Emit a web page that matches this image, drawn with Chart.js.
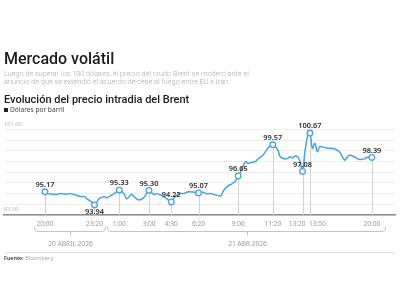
<!DOCTYPE html>
<html lang="es">
<head>
<meta charset="utf-8">
<script src="https://cdn.jsdelivr.net/npm/chart.js@4.4.1/dist/chart.umd.min.js"></script>
<style>
  html, body { margin: 0; padding: 0; background: #fff; }
  #wrap { position: relative; width: 400px; height: 300px; overflow: hidden; font-family: 'Noto Sans', sans-serif; }
  #wrap canvas { position: absolute; left: 0; top: 0; }
  .txt { position: absolute; left: 4px; white-space: nowrap; line-height: 1; }
  #title { top: 51px; font-family: Roboto, sans-serif; font-size: 16px; font-weight: 500; color: #1b1b1b; }
  #subtitle { top: 69.5px; font-family: Roboto, sans-serif; font-size: 7.3px; line-height: 8.3px; color: #a9a9a9; font-weight: 300; }
  #heading { top: 93.5px; font-family: Roboto, sans-serif; font-size: 11px; font-weight: 500; color: #1b1b1b; }
  #legend { top: 106.5px; font-size: 6.6px; color: #444; }
  #legend .sq { display: inline-block; width: 4px; height: 4px; background: #222; margin-right: 2px; vertical-align: 0px; }
  #sep { position: absolute; left: 4px; width: 392px; top: 252px; height: 1px; background: #e3e3e3; }
  #source { top: 256px; font-size: 5.4px; color: #aaa; }
  #source b { color: #333; font-weight: 600; }
</style>
</head>
<body>
<div id="wrap">
  <canvas id="brentChart" width="400" height="300"></canvas>
  <div class="txt" id="title">Mercado volátil</div>
  <div class="txt" id="subtitle">Luego de superar los 100 dólares, el precio del crudo Brent se moderó ante el<br>anuncio de que se extendió el acuerdo de cese al fuego entre EU e Irán</div>
  <div class="txt" id="heading">Evolución del precio intradia del Brent</div>
  <div class="txt" id="legend"><span class="sq"></span>Dólares por barril</div>
  <div id="sep"></div>
  <div class="txt" id="source"><b>Fuente:</b> Bloomberg</div>
</div>
<script>
// --- DATOS ---
// número de muestra (cada ~10 min) y precio del Brent en dólares
const sampleIdx = [
  0, 1, 3, 5, 6, 7, 9, 10, 12, 14, 15, 16, 17, 19, 20, 22, 24, 25, 27, 28, 30,
  32, 33, 35, 36, 38, 40, 42, 44, 45, 47, 49, 51, 52, 54, 56, 58, 60, 62,
  64, 65, 67, 69, 71, 72, 74, 75, 77, 78,
  79, 80, 81, 82, 83, 85, 86, 88, 90, 92, 94, 95, 97, 98, 99, 100, 101, 102, 103, 104,
  105, 106, 107, 108, 109, 110, 111, 113, 115, 117, 118, 119, 121, 122, 123, 125, 126, 127, 129, 130, 132
];
const brentPrice = [
  95.17, 95.00, 94.95, 94.92, 95.02, 94.98, 94.95, 95.00, 94.90, 94.75, 94.72, 94.72, 94.50, 94.20, 93.94, 94.55, 94.70, 94.62, 94.87, 95.00, 95.33,
  94.96, 94.50, 94.95, 94.71, 94.40, 94.65, 95.30, 94.90, 95.00, 94.85, 94.56, 94.22, 94.56, 95.00, 95.00, 95.18, 95.15, 95.07,
  95.12, 95.00, 95.00, 94.87, 94.80, 95.25, 95.75, 95.85, 96.20, 96.65,
  97.05, 97.60, 98.00, 97.83, 97.90, 98.00, 98.24, 98.60, 99.24, 99.57, 99.08, 98.45, 98.24, 98.30, 98.45, 98.35, 98.52, 98.45, 98.00, 97.08,
  99.00, 100.30, 100.67, 99.24, 99.70, 98.92, 99.39, 99.30, 99.25, 99.18, 99.08, 98.90, 98.14, 98.40, 98.60, 98.45, 98.30, 98.20, 98.25, 98.40, 98.39
];

// marcas del eje x (muestras destacadas) y sus horas
const tickIdx = [0, 20, 30, 42, 51, 62, 78, 92, 104, 107, 132];
const tickLabels = ['20:00', '23:20', '1:00', '3:00', '4:30', '6:20', '9:00', '11:20', '13:20', '13:50', '20:00'];
const belowLabelIdx = [20]; // 93.94 lleva la etiqueta debajo

// fechas agrupando las horas
const dateLabels = ['20 ABRIL 2026', '21 ABR 2026'];
const dateFrom = [-4.4, 25];
const dateTo = [24.1, 137.2];

const yTickLabels = [93, 101];

const BLUE = '#46a2e6';

// alineación de las horas: 13:20 y 13:50 están muy juntas
function tickAlign(v) {
  if (v === 104) return 'right';
  if (v === 107) return 'left';
  return 'center';
}

// --- PLUGIN: líneas verticales, etiquetas de valores, horas y llaves de fechas ---
const extras = {
  id: 'extras',
  beforeDatasetsDraw(chart) {
    const { ctx, chartArea } = chart;
    const meta = chart.getDatasetMeta(0);
    ctx.save();
    ctx.strokeStyle = '#d2d2d2';
    ctx.lineWidth = 1;
    meta.data.forEach((pt, i) => {
      if (!tickIdx.includes(sampleIdx[i])) return;
      const px = Math.round(pt.x) + 0.5;
      ctx.beginPath();
      ctx.moveTo(px, pt.y);
      ctx.lineTo(px, chartArea.bottom);
      ctx.stroke();
    });
    ctx.restore();
  },
  afterDatasetsDraw(chart) {
    const { ctx } = chart;
    const meta = chart.getDatasetMeta(0);
    ctx.save();
    ctx.font = "600 7.4px 'Noto Sans'";
    ctx.fillStyle = '#2b2b2b';
    ctx.textAlign = 'center';
    ctx.textBaseline = 'middle';
    meta.data.forEach((pt, i) => {
      if (!tickIdx.includes(sampleIdx[i])) return;
      const below = belowLabelIdx.includes(sampleIdx[i]);
      ctx.fillText(brentPrice[i].toFixed(2), pt.x, below ? pt.y + 6.5 : pt.y - 7);
    });
    ctx.restore();
  },
  afterDraw(chart) {
    const { ctx, chartArea, scales: { x } } = chart;
    ctx.save();
    // horas bajo el eje
    ctx.font = "6.6px 'Noto Sans'";
    ctx.fillStyle = '#9a9a9a';
    ctx.textBaseline = 'middle';
    tickIdx.forEach((v, k) => {
      const px = x.getPixelForValue(v);
      const align = tickAlign(v);
      ctx.textAlign = align;
      const off = align === 'right' ? 3 : align === 'left' ? -1 : 0;
      ctx.fillText(tickLabels[k], px + off, chartArea.bottom + 9);
    });
    // llaves con las fechas
    ctx.strokeStyle = '#c4c4c4';
    ctx.lineWidth = 1;
    const top = 226.5, bot = 231.5, r = 3.5;
    dateLabels.forEach((label, k) => {
      const x0 = Math.round(x.getPixelForValue(dateFrom[k])) + 0.5;
      const x1 = Math.round(x.getPixelForValue(dateTo[k])) + 0.5;
      const xc = Math.round((x0 + x1) / 2) + 0.5;
      ctx.beginPath();
      ctx.moveTo(x0, top);
      ctx.arcTo(x0, bot, x0 + r, bot, r);
      ctx.lineTo(x1 - r, bot);
      ctx.arcTo(x1, bot, x1, top, r);
      ctx.lineTo(x1, top);
      ctx.moveTo(xc, bot);
      ctx.lineTo(xc, bot + 4);
      ctx.stroke();
      ctx.font = "6.6px 'Noto Sans'";
      ctx.fillStyle = '#9a9a9a';
      ctx.textAlign = 'center';
      ctx.fillText(label, xc, 244);
    });
    ctx.restore();
  }
};

// --- GRÁFICO ---
new Chart(document.getElementById('brentChart').getContext('2d'), {
  type: 'line',
  data: {
    datasets: [{
      label: 'Dólares por barril',
      data: sampleIdx.map((s, i) => ({ x: s, y: brentPrice[i] })),
      borderColor: BLUE,
      borderWidth: 1.5,
      tension: 0.3,
      pointRadius: c => tickIdx.includes(sampleIdx[c.dataIndex]) ? 2.8 : 0,
      pointBackgroundColor: '#fff',
      pointBorderColor: BLUE,
      pointBorderWidth: 1.3,
      pointHoverRadius: 0,
      clip: false
    }]
  },
  options: {
    responsive: false,
    animation: false,
    events: [],
    layout: { padding: { top: 129.5, left: 4, right: 3, bottom: 65 } },
    plugins: { legend: { display: false }, tooltip: { enabled: false } },
    scales: {
      x: {
        type: 'linear',
        min: -16.5,
        max: 141.7,
        afterBuildTicks: scale => { scale.ticks = tickIdx.map(v => ({ value: v })); },
        afterFit: scale => { scale.height = 20; },
        ticks: { display: false },
        grid: { display: false, drawTicks: false },
        border: { display: true, color: '#8c8c8c', width: 1.5 }
      },
      y: {
        min: 93,
        max: 101,
        afterFit: scale => { scale.width = 0; },
        ticks: {
          stepSize: 1,
          mirror: true,
          padding: 0,
          labelOffset: -5.5,
          color: '#b5b5b5',
          font: { family: 'Noto Sans', size: 5.6 },
          callback: v => yTickLabels.includes(v) ? v.toFixed(2) : ''
        },
        grid: { color: '#eeeeee', lineWidth: 1, drawTicks: false },
        border: { display: false }
      }
    }
  },
  plugins: [extras]
});
</script>
</body>
</html>
